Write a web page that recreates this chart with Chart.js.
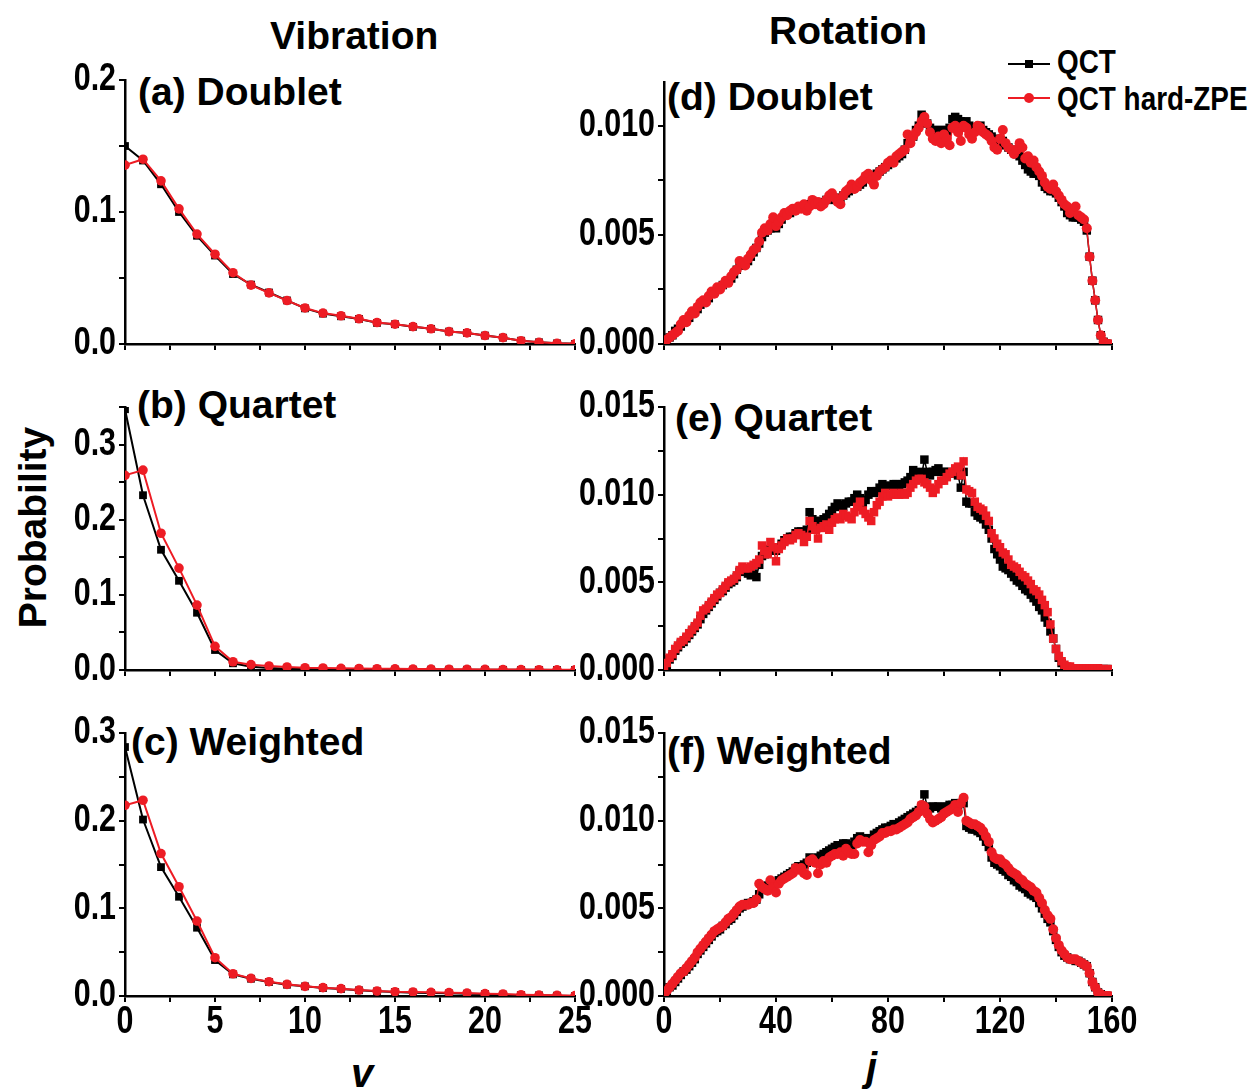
<!DOCTYPE html>
<html>
<head>
<meta charset="utf-8">
<script src="https://cdn.jsdelivr.net/npm/chart.js@4.4.1/dist/chart.umd.min.js"></script>
<style>
  body { margin: 0; background: #fff; width: 1252px; height: 1089px; position: relative; overflow: hidden;
         font-family: "Liberation Sans", Arial, sans-serif; font-weight: bold; color: #000; }
  canvas { position: absolute; }
  .t { position: absolute; white-space: nowrap; line-height: 1; }
  .narrow { transform: scaleX(0.82); transform-origin: left center; }
  .lg-line { position: absolute; height: 2px; background: #000; }
  .lg-mark { position: absolute; }
</style>
</head>
<body>

<div class="t" style="left:270px;top:16px;font-size:39px">Vibration</div>
<div class="t" style="left:769px;top:11px;font-size:39px">Rotation</div>
<div class="t" style="left:-78px;top:508px;font-size:39px;transform:rotate(-90deg);transform-origin:center;width:220px;text-align:center">Probability</div>
<div class="t" style="left:351px;top:1053px;font-size:40px;font-style:italic">v</div>
<div class="t" style="left:866px;top:1047px;font-size:40px;font-style:italic">j</div>

<div class="t" style="left:138px;top:72px;font-size:39px">(a) Doublet</div>
<div class="t" style="left:137px;top:385px;font-size:39px">(b) Quartet</div>
<div class="t" style="left:131px;top:722px;font-size:39px">(c) Weighted</div>
<div class="t" style="left:667px;top:77px;font-size:39px">(d) Doublet</div>
<div class="t" style="left:675px;top:398px;font-size:39px">(e) Quartet</div>
<div class="t" style="left:667px;top:731px;font-size:39px">(f) Weighted</div>

<div class="lg-line" style="left:1008px;top:63px;width:42px"></div>
<div class="lg-mark" style="left:1025px;top:60px;width:8px;height:8px;background:#000"></div>
<div class="t narrow" style="left:1057px;top:44px;font-size:34px">QCT</div>
<div class="lg-line" style="left:1008px;top:97px;width:42px;background:#ed1c24"></div>
<div class="lg-mark" style="left:1024px;top:93px;width:10px;height:10px;border-radius:50%;background:#ed1c24"></div>
<div class="t narrow" style="left:1057px;top:81px;font-size:34px">QCT hard-ZPE</div>

<canvas id="pa" width="560" height="300" style="left:45px;top:56px"></canvas>
<canvas id="pb" width="560" height="299" style="left:45px;top:383px"></canvas>
<canvas id="pc" width="560" height="337" style="left:45px;top:709px"></canvas>
<canvas id="pd" width="578" height="298" style="left:564px;top:58px"></canvas>
<canvas id="pe" width="578" height="299" style="left:564px;top:383px"></canvas>
<canvas id="pf" width="578" height="337" style="left:564px;top:709px"></canvas>

<script>
// vibrational quantum number v
const vibV = [0, 1, 2, 3, 4, 5, 6, 7, 8, 9, 10, 11, 12, 13, 14, 15, 16, 17, 18, 19, 20, 21, 22, 23, 24, 25]

const aQCT = [0.150, 0.139, 0.121, 0.100, 0.082, 0.067, 0.053, 0.045, 0.039, 0.033, 0.027, 0.023, 0.021,
  0.019, 0.016, 0.015, 0.013, 0.0115, 0.0094, 0.0084, 0.0064, 0.0048, 0.0025, 0.0013, 0.0005, 0.0001]
const aZPE = [0.1355, 0.140, 0.1236, 0.1024, 0.0833, 0.068, 0.054, 0.0446, 0.0387, 0.0329, 0.0273, 0.0234, 0.0214,
  0.0191, 0.0163, 0.015, 0.0132, 0.0115, 0.0094, 0.0084, 0.0064, 0.0048, 0.0025, 0.0013, 0.0005, 0.0001]
const bQCT = [0.347, 0.2326, 0.160, 0.1187, 0.0762, 0.0266, 0.0089, 0.0044, 0.0027, 0.0018, 0.0013, 0.001, 0.0009,
  0.0008, 0.0007, 0.0006, 0.0005, 0.0005, 0.0004, 0.0004, 0.0003, 0.0003, 0.0002, 0.0002, 0.0001, 0.0001]
const bZPE = [0.259, 0.266, 0.182, 0.1356, 0.0864, 0.0315, 0.011, 0.0071, 0.0053, 0.004, 0.003, 0.0027, 0.0022,
  0.002, 0.0017, 0.0015, 0.0013, 0.0012, 0.001, 0.0009, 0.0008, 0.0006, 0.0005, 0.0004, 0.0003, 0.0002]
const cQCT = [0.284, 0.2013, 0.147, 0.1132, 0.0779, 0.041, 0.0247, 0.0197, 0.016, 0.0129, 0.011, 0.0091, 0.008,
  0.0065, 0.0053, 0.0046, 0.0038, 0.0034, 0.003, 0.0027, 0.0023, 0.0015, 0.0011, 0.0008, 0.0004, 0.0001]
const cZPE = [0.2176, 0.2233, 0.1625, 0.1246, 0.0855, 0.0437, 0.0254, 0.0201, 0.0163, 0.0133, 0.011, 0.0095, 0.0084,
  0.0068, 0.0057, 0.0049, 0.0046, 0.0042, 0.0038, 0.0034, 0.0027, 0.0023, 0.0015, 0.0011, 0.0008, 0.0004]

// rotational quantum number j
const rotJ = [0, 1, 2, 3, 4, 5, 6, 7, 8, 9, 10, 11, 12, 13, 14, 15, 16, 17, 18, 19,
  20, 21, 22, 23, 24, 25, 26, 27, 28, 29, 30, 31, 32, 33, 34, 35, 36, 37, 38, 39,
  40, 41, 42, 43, 44, 45, 46, 47, 48, 49, 50, 51, 52, 53, 54, 55, 56, 57, 58, 59,
  60, 61, 62, 63, 64, 65, 66, 67, 68, 69, 70, 71, 72, 73, 74, 75, 76, 77, 78, 79,
  80, 81, 82, 83, 84, 85, 86, 87, 88, 89, 90, 91, 92, 93, 94, 95, 96, 97, 98, 99,
  100, 101, 102, 103, 104, 105, 106, 107, 108, 109, 110, 111, 112, 113, 114, 115, 116, 117, 118, 119,
  120, 121, 122, 123, 124, 125, 126, 127, 128, 129, 130, 131, 132, 133, 134, 135, 136, 137, 138, 139,
  140, 141, 142, 143, 144, 145, 146, 147, 148, 149, 150, 151, 152, 153, 154, 155, 156, 157, 158, 159]

const dQCT = [0.0001, 0.0002, 0.0003, 0.0004, 0.0006, 0.0007, 0.0008, 0.0010, 0.0011, 0.0012,
  0.0014, 0.0015, 0.0016, 0.0018, 0.0019, 0.0020, 0.0021, 0.0023, 0.0024, 0.0025,
  0.0026, 0.0027, 0.0028, 0.0029, 0.0030, 0.0032, 0.0034, 0.0036, 0.0036, 0.0037,
  0.0038, 0.0040, 0.0042, 0.0044, 0.0046, 0.0049, 0.0051, 0.0052, 0.0053, 0.0054,
  0.0053, 0.0055, 0.0057, 0.0059, 0.0060, 0.0060, 0.0061, 0.0062, 0.0062, 0.0063,
  0.0062, 0.0062, 0.0064, 0.0065, 0.0064, 0.0064, 0.0064, 0.0065, 0.0066, 0.0067,
  0.0067, 0.0066, 0.0066, 0.0067, 0.0068, 0.0069, 0.0070, 0.0071, 0.0072, 0.0072,
  0.0073, 0.0074, 0.0076, 0.0077, 0.0076, 0.0077, 0.0078, 0.0079, 0.0080, 0.0081,
  0.0082, 0.0083, 0.0084, 0.0085, 0.0086, 0.0087, 0.0089, 0.0092, 0.0093, 0.0095,
  0.0098, 0.0100, 0.0105, 0.0103, 0.0101, 0.0099, 0.0098, 0.0098, 0.0097, 0.0098,
  0.0098, 0.0097, 0.0099, 0.0103, 0.0104, 0.0103, 0.0102, 0.0101, 0.0102, 0.0100,
  0.0099, 0.0098, 0.0099, 0.0100, 0.0098, 0.0097, 0.0096, 0.0095, 0.0094, 0.0092,
  0.0092, 0.0093, 0.0091, 0.0090, 0.0089, 0.0088, 0.0087, 0.0086, 0.0084, 0.0082,
  0.0080, 0.0079, 0.0078, 0.0078, 0.0077, 0.0074, 0.0072, 0.0071, 0.0070, 0.0070,
  0.0069, 0.0067, 0.0065, 0.0063, 0.0060, 0.0059, 0.0058, 0.0058, 0.0058, 0.0057,
  0.0056, 0.0052, 0.0040, 0.0029, 0.0020, 0.0011, 0.0004, 0.0001, 0.0000, 0.0000]
const dZPE = [0.0001, 0.0002, 0.0003, 0.0004, 0.0005, 0.0006, 0.0009, 0.0011, 0.0010, 0.0013,
  0.0015, 0.0014, 0.0017, 0.0019, 0.0020, 0.0019, 0.0022, 0.0024, 0.0023, 0.0026,
  0.0025, 0.0027, 0.0029, 0.0028, 0.0031, 0.0033, 0.0034, 0.0038, 0.0037, 0.0036,
  0.0039, 0.0041, 0.0043, 0.0044, 0.0047, 0.0051, 0.0053, 0.0052, 0.0055, 0.0058,
  0.0054, 0.0056, 0.0058, 0.0060, 0.0059, 0.0061, 0.0062, 0.0061, 0.0063, 0.0062,
  0.0064, 0.0061, 0.0063, 0.0066, 0.0064, 0.0065, 0.0063, 0.0064, 0.0066, 0.0068,
  0.0069, 0.0067, 0.0065, 0.0064, 0.0068, 0.0070, 0.0071, 0.0073, 0.0071, 0.0072,
  0.0074, 0.0075, 0.0077, 0.0078, 0.0075, 0.0073, 0.0077, 0.0079, 0.0080, 0.0081,
  0.0083, 0.0084, 0.0083, 0.0086, 0.0087, 0.0088, 0.0089, 0.0096, 0.0092, 0.0095,
  0.0097, 0.0099, 0.0102, 0.0104, 0.0101, 0.0097, 0.0094, 0.0093, 0.0095, 0.0092,
  0.0096, 0.0094, 0.0091, 0.0099, 0.0100, 0.0097, 0.0093, 0.0100, 0.0099, 0.0096,
  0.0094, 0.0097, 0.0100, 0.0099, 0.0097, 0.0096, 0.0095, 0.0093, 0.0090, 0.0089,
  0.0094, 0.0098, 0.0092, 0.0090, 0.0089, 0.0087, 0.0089, 0.0092, 0.0090, 0.0085,
  0.0086, 0.0083, 0.0084, 0.0081, 0.0079, 0.0077, 0.0074, 0.0072, 0.0071, 0.0073,
  0.0070, 0.0068, 0.0066, 0.0064, 0.0063, 0.0060, 0.0061, 0.0063, 0.0059, 0.0058,
  0.0057, 0.0053, 0.0040, 0.0029, 0.0020, 0.0011, 0.0004, 0.0001, 0.0000, 0.0000]

const eQCT = [0.0001, 0.0003, 0.0006, 0.0008, 0.0011, 0.0013, 0.0015, 0.0016, 0.0018, 0.0020,
  0.0022, 0.0024, 0.0026, 0.0029, 0.0032, 0.0034, 0.0036, 0.0038, 0.0040, 0.0042,
  0.0044, 0.0045, 0.0047, 0.0049, 0.0050, 0.0051, 0.0053, 0.0056, 0.0057, 0.0056,
  0.0055, 0.0054, 0.0055, 0.0053, 0.0060, 0.0065, 0.0066, 0.0067, 0.0069, 0.0068,
  0.0068, 0.0070, 0.0072, 0.0074, 0.0075, 0.0076, 0.0076, 0.0078, 0.0079, 0.0079,
  0.0078, 0.0080, 0.0090, 0.0086, 0.0085, 0.0083, 0.0085, 0.0086, 0.0087, 0.0089,
  0.0091, 0.0093, 0.0095, 0.0094, 0.0093, 0.0095, 0.0096, 0.0096, 0.0098, 0.0100,
  0.0098, 0.0095, 0.0097, 0.0100, 0.0102, 0.0101, 0.0102, 0.0104, 0.0106, 0.0105,
  0.0105, 0.0105, 0.0106, 0.0106, 0.0105, 0.0106, 0.0107, 0.0108, 0.0110, 0.0114,
  0.0112, 0.0113, 0.0111, 0.0120, 0.0113, 0.0111, 0.0113, 0.0114, 0.0115, 0.0113,
  0.0113, 0.0112, 0.0113, 0.0112, 0.0112, 0.0111, 0.0104, 0.0113, 0.0096, 0.0095,
  0.0095, 0.0090, 0.0088, 0.0087, 0.0086, 0.0083, 0.0080, 0.0075, 0.0069, 0.0066,
  0.0063, 0.0059, 0.0058, 0.0057, 0.0055, 0.0053, 0.0051, 0.0050, 0.0048, 0.0046,
  0.0045, 0.0043, 0.0041, 0.0039, 0.0036, 0.0034, 0.0030, 0.0027, 0.0022, 0.0018,
  0.0012, 0.0007, 0.0004, 0.0002, 0.0001, 0.0001, 0.00005, 0.00005, 0.00005, 0.00005,
  0.00005, 0.00005, 0.00005, 0.00005, 0.00005, 0.00005, 0.00005, 0.00005, 0.00005, 0.00005]
const eZPE = [0.0001, 0.0004, 0.0007, 0.0009, 0.0012, 0.0014, 0.0016, 0.0017, 0.0019, 0.0021,
  0.0023, 0.0025, 0.0027, 0.0031, 0.0034, 0.0035, 0.0037, 0.0039, 0.0041, 0.0043,
  0.0044, 0.0046, 0.0048, 0.0050, 0.0051, 0.0052, 0.0054, 0.0057, 0.0059, 0.0058,
  0.0058, 0.0059, 0.0060, 0.0061, 0.0063, 0.0071, 0.0068, 0.0066, 0.0073, 0.0070,
  0.0062, 0.0069, 0.0071, 0.0073, 0.0075, 0.0074, 0.0075, 0.0077, 0.0078, 0.0077,
  0.0073, 0.0076, 0.0085, 0.0082, 0.0080, 0.0075, 0.0081, 0.0082, 0.0083, 0.0080,
  0.0084, 0.0086, 0.0087, 0.0086, 0.0089, 0.0088, 0.0087, 0.0086, 0.0090, 0.0093,
  0.0096, 0.0091, 0.0089, 0.0087, 0.0085, 0.0090, 0.0094, 0.0096, 0.0099, 0.0101,
  0.0099, 0.0100, 0.0101, 0.0100, 0.0100, 0.0101, 0.0100, 0.0101, 0.0104, 0.0106,
  0.0108, 0.0109, 0.0109, 0.0107, 0.0106, 0.0104, 0.0101, 0.0103, 0.0106, 0.0108,
  0.0108, 0.0110, 0.0112, 0.0113, 0.0115, 0.0116, 0.0111, 0.0119, 0.0103, 0.0102,
  0.0101, 0.0096, 0.0093, 0.0092, 0.0091, 0.0088, 0.0085, 0.0078, 0.0075, 0.0072,
  0.0070, 0.0067, 0.0066, 0.0063, 0.0060, 0.0059, 0.0058, 0.0056, 0.0054, 0.0053,
  0.0051, 0.0049, 0.0046, 0.0045, 0.0043, 0.0040, 0.0037, 0.0033, 0.0026, 0.0018,
  0.0012, 0.0008, 0.0005, 0.0003, 0.0002, 0.0002, 0.0001, 0.0001, 0.0001, 0.0001,
  0.0001, 0.0001, 0.0001, 0.0001, 0.0001, 0.0001, 0.00005, 0.00005, 0.00005, 0.00005]

const fQCT = [0.0001, 0.0003, 0.0005, 0.0006, 0.0008, 0.0010, 0.0012, 0.0014, 0.0015, 0.0017,
  0.0019, 0.0021, 0.0024, 0.0026, 0.0028, 0.0030, 0.0032, 0.0034, 0.0036, 0.0037,
  0.0038, 0.0040, 0.0041, 0.0043, 0.0044, 0.0046, 0.0048, 0.0050, 0.0051, 0.0052,
  0.0053, 0.0053, 0.0054, 0.0055, 0.0058, 0.0061, 0.0062, 0.0063, 0.0064, 0.0064,
  0.0065, 0.0066, 0.0067, 0.0068, 0.0069, 0.0070, 0.0071, 0.0073, 0.0074, 0.0074,
  0.0075, 0.0076, 0.0079, 0.0078, 0.0078, 0.0079, 0.0080, 0.0081, 0.0082, 0.0083,
  0.0084, 0.0085, 0.0086, 0.0086, 0.0087, 0.0087, 0.0086, 0.0086, 0.0088, 0.0090,
  0.0091, 0.0090, 0.0090, 0.0089, 0.0090, 0.0092, 0.0093, 0.0094, 0.0095, 0.0096,
  0.0096, 0.0097, 0.0098, 0.0098, 0.0099, 0.0100, 0.0101, 0.0102, 0.0103, 0.0104,
  0.0105, 0.0106, 0.0108, 0.0115, 0.0108, 0.0107, 0.0108, 0.0108, 0.0108, 0.0107,
  0.0108, 0.0108, 0.0109, 0.0109, 0.0110, 0.0109, 0.0110, 0.0110, 0.0097, 0.0096,
  0.0095, 0.0095, 0.0094, 0.0093, 0.0091, 0.0088, 0.0085, 0.0079, 0.0076, 0.0075,
  0.0074, 0.0072, 0.0071, 0.0069, 0.0068, 0.0066, 0.0065, 0.0063, 0.0062, 0.0061,
  0.0059, 0.0058, 0.0057, 0.0056, 0.0053, 0.0050, 0.0047, 0.0044, 0.0042, 0.0037,
  0.0032, 0.0028, 0.0025, 0.0023, 0.0022, 0.0021, 0.0021, 0.0020, 0.0020, 0.0019,
  0.0018, 0.0017, 0.0013, 0.0008, 0.0005, 0.0002, 0.0001, 0.0000, 0.0000, 0.0000]
const fZPE = [0.0001, 0.0003, 0.0005, 0.0007, 0.0009, 0.0011, 0.0013, 0.0014, 0.0016, 0.0018,
  0.0020, 0.0022, 0.0025, 0.0027, 0.0029, 0.0031, 0.0033, 0.0035, 0.0037, 0.0038,
  0.0039, 0.0040, 0.0042, 0.0044, 0.0045, 0.0047, 0.0049, 0.0051, 0.0052, 0.0052,
  0.0052, 0.0053, 0.0053, 0.0055, 0.0064, 0.0062, 0.0061, 0.0060, 0.0066, 0.0062,
  0.0059, 0.0064, 0.0066, 0.0067, 0.0068, 0.0069, 0.0070, 0.0073, 0.0072, 0.0073,
  0.0070, 0.0069, 0.0077, 0.0078, 0.0076, 0.0070, 0.0075, 0.0077, 0.0076, 0.0079,
  0.0080, 0.0081, 0.0081, 0.0082, 0.0080, 0.0084, 0.0082, 0.0081, 0.0081, 0.0087,
  0.0089, 0.0088, 0.0088, 0.0082, 0.0086, 0.0089, 0.0090, 0.0091, 0.0093, 0.0093,
  0.0094, 0.0094, 0.0095, 0.0095, 0.0096, 0.0097, 0.0098, 0.0099, 0.0101, 0.0102,
  0.0103, 0.0105, 0.0109, 0.0108, 0.0104, 0.0101, 0.0099, 0.0100, 0.0101, 0.0102,
  0.0104, 0.0105, 0.0106, 0.0107, 0.0109, 0.0105, 0.0110, 0.0113, 0.0100, 0.0099,
  0.0098, 0.0098, 0.0097, 0.0096, 0.0094, 0.0091, 0.0088, 0.0082, 0.0079, 0.0078,
  0.0078, 0.0076, 0.0075, 0.0073, 0.0071, 0.0070, 0.0069, 0.0067, 0.0066, 0.0064,
  0.0063, 0.0062, 0.0060, 0.0059, 0.0056, 0.0053, 0.0049, 0.0046, 0.0044, 0.0038,
  0.0033, 0.0029, 0.0026, 0.0024, 0.0022, 0.0021, 0.0021, 0.0021, 0.0020, 0.0019,
  0.0018, 0.0017, 0.0013, 0.0008, 0.0005, 0.0002, 0.0001, 0.0000, 0.0000, 0.0000]

const RED = '#ed1c24'

function pts(xs, ys) {
  return xs.map((x, i) => ({ x: x, y: ys[i] }))
}

function isMult(v, step) {
  return Math.abs(v / step - Math.round(v / step)) < 1e-6
}

// tick labels in a condensed bold face: drawn squeezed at the scale's own tick pixels
const narrowTicks = {
  id: 'narrowTicks',
  afterDraw(chart, args, o) {
    const ctx = chart.ctx
    const area = chart.chartArea
    ctx.save()
    ctx.fillStyle = '#000'
    ctx.font = 'bold 38px "Liberation Sans", Arial, sans-serif'
    ctx.textBaseline = 'middle'
    const ys = chart.scales.y
    ctx.textAlign = 'right'
    ys.ticks.forEach(t => {
      if (!isMult(t.value, o.yMajor)) return
      ctx.save()
      ctx.translate(area.left - 9, ys.getPixelForValue(t.value))
      ctx.scale(0.8, 1)
      ctx.fillText(t.value.toFixed(o.dec), 0, 0)
      ctx.restore()
    })
    if (o.xLabels) {
      const xs = chart.scales.x
      ctx.textAlign = 'center'
      xs.ticks.forEach(t => {
        if (!isMult(t.value, o.xMajor)) return
        ctx.save()
        ctx.translate(xs.getPixelForValue(t.value), area.bottom + 27)
        ctx.scale(0.8, 1)
        ctx.fillText(String(Math.round(t.value)), 0, 0)
        ctx.restore()
      })
    }
    ctx.restore()
  }
}

function makePanel(id, p) {
  const ctx = document.getElementById(id).getContext('2d')
  return new Chart(ctx, {
    type: 'line',
    data: {
      datasets: [
        {
          label: 'QCT',
          data: pts(p.xs, p.qct),
          borderColor: '#000',
          backgroundColor: '#000',
          borderWidth: p.lw,
          pointStyle: 'rect',
          pointRadius: p.sq,
          pointBorderWidth: 0,
          order: 2
        },
        {
          label: 'QCT hard-ZPE',
          data: pts(p.xs, p.zpe),
          borderColor: RED,
          backgroundColor: RED,
          borderWidth: p.lw,
          pointStyle: p.redStyle || 'circle',
          pointRadius: p.dot,
          pointBorderWidth: 0,
          order: 1
        }
      ]
    },
    plugins: [narrowTicks],
    options: {
      responsive: false,
      animation: false,
      layout: { padding: { top: 24, right: 30, left: 0, bottom: 0 } },
      plugins: {
        legend: { display: false },
        tooltip: { enabled: false },
        narrowTicks: { yMajor: p.yMajor, dec: p.dec, xMajor: p.xMajor, xLabels: p.xLabels }
      },
      scales: {
        x: {
          type: 'linear',
          min: p.xMin, max: p.xMax,
          afterFit: s => { s.height = p.xh; s.paddingLeft = 0; s.paddingRight = 0 },
          grid: { drawOnChartArea: false, color: '#000', lineWidth: 2, tickLength: 6, tickColor: '#000' },
          border: { color: '#000', width: 2.5 },
          ticks: { display: false, stepSize: p.xStep, autoSkip: false }
        },
        y: {
          min: 0, max: p.yMax,
          afterFit: s => { s.width = p.yw; s.paddingTop = 0; s.paddingBottom = 0 },
          afterBuildTicks: s => { s.ticks = s.ticks.filter(t => isMult(t.value, p.yStep)) },
          grid: { drawOnChartArea: false, color: '#000', lineWidth: 2, tickLength: 6, tickColor: '#000' },
          border: { color: '#000', width: 2.5 },
          ticks: { display: false, stepSize: p.yStep, autoSkip: false }
        }
      }
    }
  })
}

const vib = { xs: vibV, xMin: 0, xMax: 25, xStep: 2.5, xMajor: 5, yw: 80, lw: 2, sq: 5.5, dot: 4.8, dec: 1, yStep: 0.05, yMajor: 0.1 }
const rot = { xs: rotJ, xMin: 0, xMax: 160, xStep: 20, xMajor: 40, yw: 100, lw: 1.5, sq: 6, dot: 5, dec: 3, yStep: 0.0025, yMajor: 0.005 }

makePanel('pa', Object.assign({}, vib, { qct: aQCT, zpe: aZPE, yMax: 0.2, xLabels: false, xh: 12 }))
makePanel('pb', Object.assign({}, vib, { qct: bQCT, zpe: bZPE, yMax: 0.35, xLabels: false, xh: 12 }))
makePanel('pc', Object.assign({}, vib, { qct: cQCT, zpe: cZPE, yMax: 0.3, xLabels: true, xh: 50 }))
makePanel('pd', Object.assign({}, rot, { qct: dQCT, zpe: dZPE, yMax: 0.012, xLabels: false, xh: 12 }))
makePanel('pe', Object.assign({}, rot, { qct: eQCT, zpe: eZPE, yMax: 0.015, xLabels: false, xh: 12, redStyle: 'rect', dot: 6 }))
makePanel('pf', Object.assign({}, rot, { qct: fQCT, zpe: fZPE, yMax: 0.015, xLabels: true, xh: 50 }))
</script>
</body>
</html>
